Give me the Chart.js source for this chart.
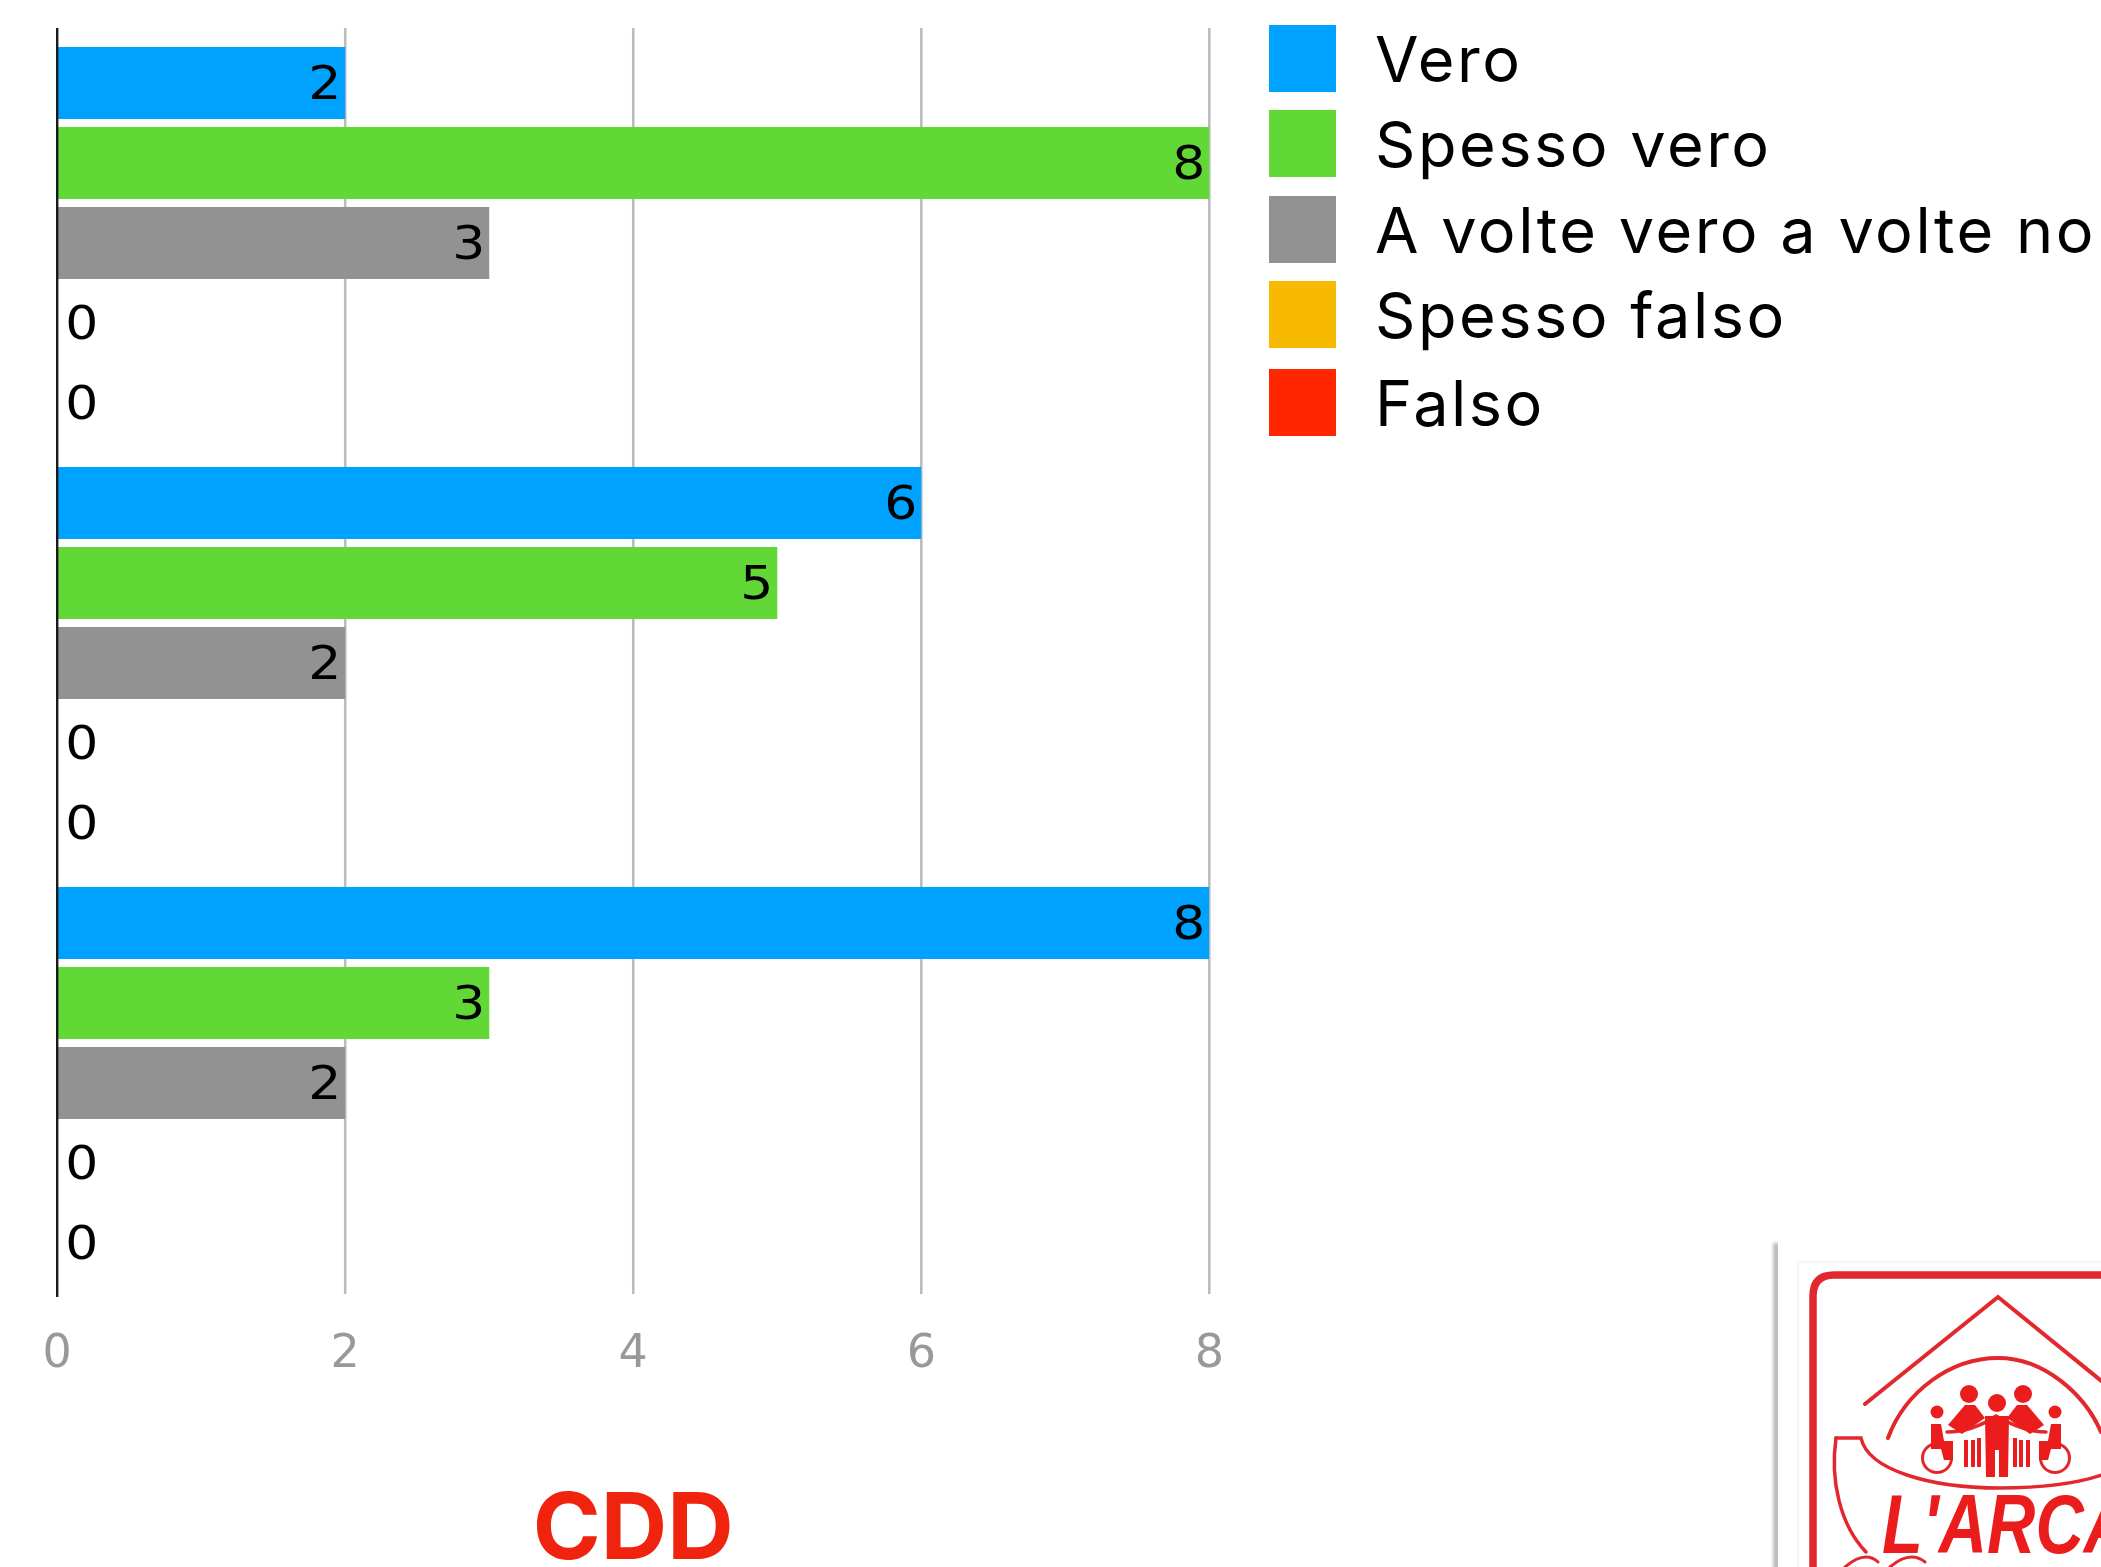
<!DOCTYPE html>
<html lang="it">
<head>
<meta charset="utf-8">
<title>CDD</title>
<script src="https://cdn.jsdelivr.net/npm/chart.js@4/dist/chart.umd.js"></script>
<style>
  html,body{margin:0;padding:0;background:#fff;overflow:hidden}
  #wrap{position:relative;width:2101px;height:1567px;overflow:hidden}
  canvas{position:absolute;left:0;top:0}
  #legend{font-family:Inter,sans-serif;font-size:63px;font-weight:400;color:#000;letter-spacing:2.5px;white-space:nowrap}
  .row{position:absolute;left:1269px;display:flex;align-items:center;height:67px}
  .sw{width:67px;height:67px;margin-right:39px;flex:none}
  #logo{position:absolute;left:1740px;top:1220px;filter:blur(.6px)}
</style>
</head>
<body>
<div id="wrap">
  <canvas id="c" width="2101" height="1567"></canvas>
  <div id="legend"></div>
  <svg id="logo" width="361" height="347" viewBox="1740 1220 361 347" xmlns="http://www.w3.org/2000/svg">
    <rect x="1773" y="1243" width="7" height="330" fill="#bdbdbd" style="filter:blur(1.5px)"/>
    <rect x="1778" y="1240" width="323" height="327" fill="#fff"/>
    <path d="M1798 1567V1262H2101" fill="none" stroke="#f4f4f4" stroke-width="1.5"/>
    <g fill="none" stroke="#e2282c" stroke-linecap="round">
      <path d="M1813 1567V1296Q1813 1275 1834 1275H2110" stroke-width="7.5"/>
      <path d="M1865 1404L1998 1297L2110 1388" stroke-width="4"/>
      <path d="M1888 1438C1905 1392 1950 1358 1998 1358C2045 1358 2085 1395 2101 1432" stroke-width="4"/>
      <path d="M1836 1438H1861C1868 1470 1930 1488 2000 1488C2050 1488 2085 1482 2110 1472" stroke-width="3.5"/>
      <path d="M1836 1438C1830 1480 1840 1525 1866 1552" stroke-width="3.5"/>
      <path d="M1845 1567Q1865 1550 1878 1562M1890 1567Q1910 1550 1925 1562" stroke-width="3"/>
      <circle cx="1937" cy="1458" r="14.5" stroke-width="3"/>
      <circle cx="2055" cy="1458" r="14.5" stroke-width="3"/>
      <path d="M1947 1432Q1972 1432 1996 1416Q2024 1432 2046 1432" stroke-width="3.5"/>
    </g>
    <g fill="#ea1c1c">
      <circle cx="1969" cy="1394" r="9"/><circle cx="2023" cy="1394" r="9"/>
      <circle cx="1997" cy="1403" r="9"/><circle cx="1937" cy="1412" r="6.5"/><circle cx="2055" cy="1412" r="6.5"/>
      <path d="M1948 1425L1965 1405H1975L1985 1418L1962 1434Z"/>
      <path d="M2044 1425L2027 1405H2017L2007 1418L2030 1434Z"/>
      <path d="M1985 1416H2009L2008 1477H1999V1450H1995V1477H1986Z"/>
      <path d="M1931 1424H1941L1944 1441H1953V1460H1944L1941 1449H1931Z"/>
      <path d="M2061 1424H2051L2048 1441H2039V1460H2048L2051 1449H2061Z"/>
      <path d="M1964 1440h4v27h-4zM1971 1440h4v27h-4zM1977 1438h4v29h-4zM2013 1438h4v29h-4zM2019 1440h4v27h-4zM2026 1440h4v27h-4z"/>
      <text x="1882" y="1553" font-family="Liberation Sans, sans-serif" font-size="84" font-weight="700" font-style="italic" textLength="250" lengthAdjust="spacingAndGlyphs">L'ARCA</text>
    </g>
  </svg>
</div>
<script>
const categories = ['Gruppo 1', 'Gruppo 2', 'Gruppo 3'];
const seriesNames = ['Vero', 'Spesso vero', 'A volte vero a volte no', 'Spesso falso', 'Falso'];
const seriesColors = ['#00a2ff', '#61d836', '#929292', '#f8ba00', '#ff2600'];
const vero = [2, 6, 8];
const spessoVero = [8, 5, 3];
const aVolte = [3, 2, 2];
const spessoFalso = [0, 0, 0];
const falso = [0, 0, 0];
const seriesValues = [vero, spessoVero, aVolte, spessoFalso, falso];
const chartTitle = 'CDD';
const legendRowTops = [25, 110, 196, 281, 369];

const gridPlugin = {
  id: 'extendedGrid',
  beforeDatasetsDraw(chart) {
    const ctx = chart.ctx, x = chart.scales.x;
    ctx.save();
    ctx.strokeStyle = '#bcbcbc';
    ctx.lineWidth = 2.6;
    x.ticks.forEach(t => {
      if (t.value === 0) return;
      const px = x.getPixelForValue(t.value);
      ctx.beginPath(); ctx.moveTo(px, 28); ctx.lineTo(px, 1294); ctx.stroke();
    });
    ctx.restore();
  },
  afterDatasetsDraw(chart) {
    const ctx = chart.ctx, x = chart.scales.x;
    const px = x.getPixelForValue(0);
    ctx.save();
    ctx.strokeStyle = '#1a1a1a';
    ctx.lineWidth = 2.4;
    ctx.beginPath(); ctx.moveTo(px, 28); ctx.lineTo(px, 1297); ctx.stroke();
    ctx.restore();
  }
};

const valueLabels = {
  id: 'valueLabels',
  afterDatasetsDraw(chart) {
    const ctx = chart.ctx;
    const stretch = 1.13;
    chart.data.datasets.forEach((ds, i) => {
      chart.getDatasetMeta(i).data.forEach((el, j) => {
        const v = ds.data[j];
        ctx.save();
        ctx.font = '400 46px "DejaVu Sans", sans-serif';
        ctx.fillStyle = '#000';
        ctx.textBaseline = 'alphabetic';
        if (v === 0) {
          ctx.textAlign = 'left';
          ctx.translate(el.x + 8, el.y + 16);
        } else {
          ctx.textAlign = 'right';
          ctx.translate(el.x - 4, el.y + 16);
        }
        ctx.scale(stretch, 1);
        ctx.fillText(String(v), 0, 0);
        ctx.restore();
      });
    });
  }
};

new Chart(document.getElementById('c'), {
  type: 'bar',
  data: {
    labels: categories,
    datasets: seriesNames.map((name, i) => ({
      label: name,
      data: seriesValues[i],
      backgroundColor: seriesColors[i],
      borderWidth: 0,
      categoryPercentage: 400 / 420,
      barPercentage: 0.9
    }))
  },
  options: {
    indexAxis: 'y',
    responsive: false,
    animation: false,
    layout: { padding: { left: 57.2, right: 891.7, top: 33, bottom: 0 } },
    plugins: { legend: { display: false }, tooltip: { enabled: false } },
    scales: {
      x: {
        min: 0, max: 8,
        border: { display: false },
        grid: { display: false },
        ticks: {
          stepSize: 2, color: '#999999', padding: 26, maxRotation: 0,
          font: { family: '"DejaVu Sans", sans-serif', size: 46, weight: '400' }
        },
        title: {
          display: true, text: chartTitle, color: '#f0230f',
          font: { family: 'Inter, sans-serif', size: 92, weight: '700' },
          padding: { top: 0, bottom: -20 }
        },
        afterFit(scale) { scale.height = 274; }
      },
      y: {
        border: { display: false },
        grid: { display: false },
        ticks: { display: false },
        afterFit(scale) { scale.width = 0; }
      }
    }
  },
  plugins: [gridPlugin, valueLabels]
});

const legend = document.getElementById('legend');
seriesNames.forEach((name, i) => {
  const row = document.createElement('div'); row.className = 'row'; row.style.top = legendRowTops[i] + 'px';
  const sw = document.createElement('div'); sw.className = 'sw'; sw.style.background = seriesColors[i];
  const tx = document.createElement('span'); tx.textContent = name;
  row.append(sw, tx); legend.append(row);
});
</script>
</body>
</html>
